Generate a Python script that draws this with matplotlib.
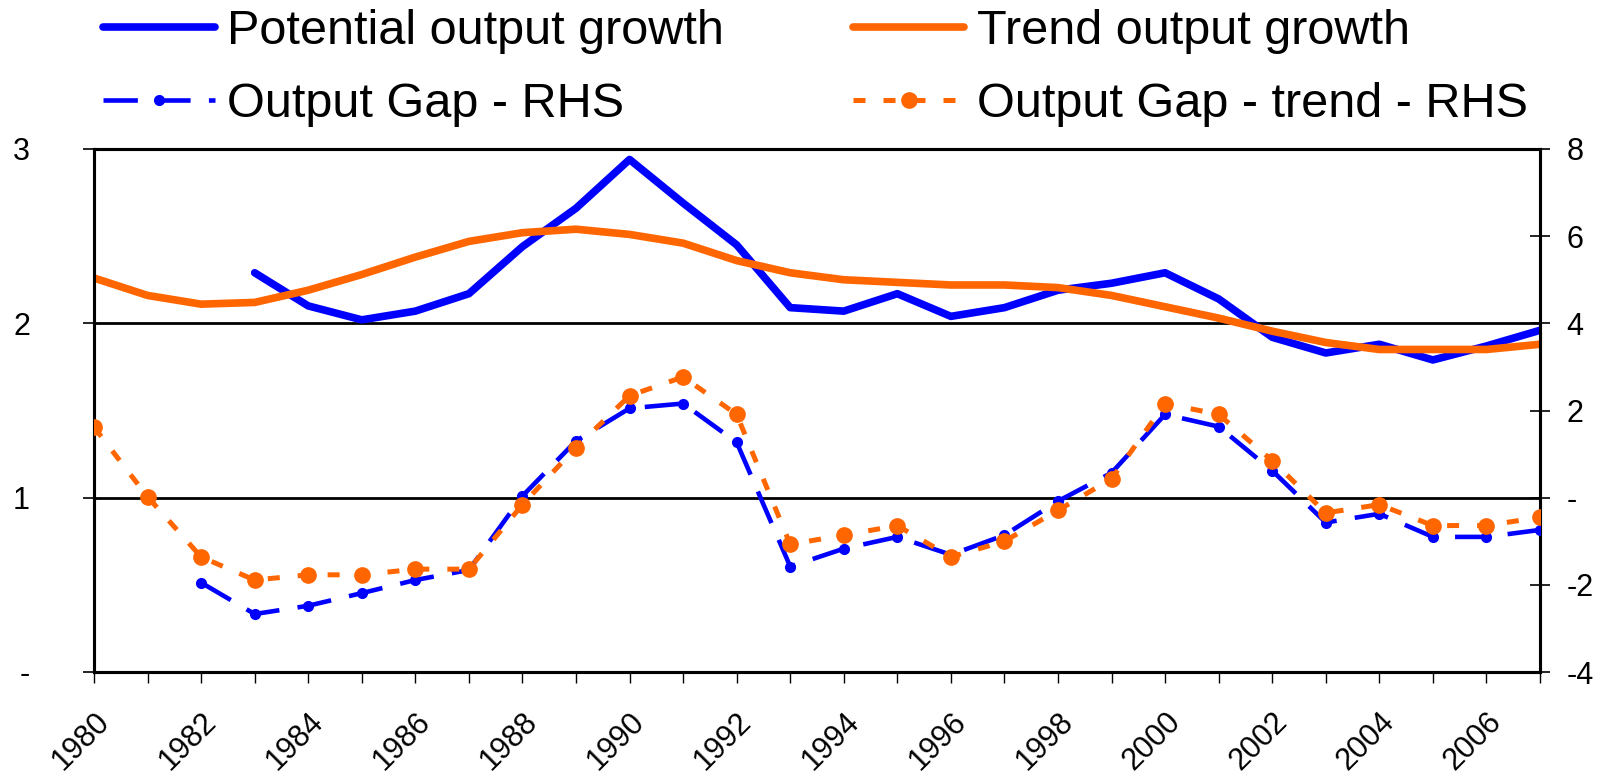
import numpy as np
import matplotlib.pyplot as plt
import matplotlib.transforms as mtransforms

plt.rcParams['font.family'] = ['Liberation Sans', 'DejaVu Sans']

nan = np.nan
years = list(range(1980, 2008))

potential_growth = [nan, nan, nan, 2.29, 2.10, 2.02, 2.07, 2.17, 2.44, 2.66, 2.94, 2.69, 2.45,
                    2.09, 2.07, 2.17, 2.04, 2.09, 2.19, 2.23, 2.29, 2.14, 1.92, 1.83, 1.88,
                    1.79, 1.87, 1.96]
trend_growth = [2.26, 2.16, 2.11, 2.12, 2.19, 2.28, 2.38, 2.47, 2.52, 2.54, 2.51, 2.46, 2.36,
                2.29, 2.25, 2.235, 2.22, 2.22, 2.205, 2.16, 2.095, 2.03, 1.955, 1.89, 1.85,
                1.85, 1.85, 1.88]
output_gap = [nan, nan, -1.95, -2.67, -2.48, -2.19, -1.89, -1.66, 0.04, 1.30, 2.05, 2.16, 1.27,
              -1.58, -1.17, -0.90, -1.31, -0.86, -0.08, 0.57, 1.91, 1.63, 0.62, -0.57, -0.37,
              -0.90, -0.90, -0.74]
output_gap_trend = [1.62, 0.02, -1.36, -1.89, -1.77, -1.77, -1.64, -1.64, -0.16, 1.15, 2.34,
                    2.77, 1.91, -1.07, -0.86, -0.64, -1.36, -1.00, -0.29, 0.43, 2.16, 1.91,
                    0.85, -0.35, -0.16, -0.64, -0.64, -0.45]

left_ticks = [0, 1, 2, 3]
left_labels = ['-', '1', '2', '3']
right_ticks = [-4, -2, 0, 2, 4, 6, 8]
right_labels = ['-4', '-2', '-', '2', '4', '6', '8']

blue = '#0000FF'
orange = '#FF6600'

W, H = 1606, 778
fig = plt.figure(figsize=(W / 100, H / 100), dpi=100)
ax = fig.add_axes([94 / W, 1 - 672 / H, (1540 - 94) / W, (672 - 149) / H])
ax2 = ax.twinx()

# horizontal gridlines at 1 and 2 (left scale)
for v in [1, 2]:
    ax.axhline(v, color='black', lw=2.0, zorder=1)

l1, = ax.plot(years, potential_growth, color=blue, lw=5.5, solid_capstyle='round',
              label='Potential output growth', zorder=3)
l2, = ax.plot(years, trend_growth, color=orange, lw=5.5, solid_capstyle='round',
              label='Trend output growth', zorder=3)
l3, = ax2.plot(years, output_gap, color=blue, lw=3.3, dashes=(7.5, 4.0),
               marker='o', markersize=7, label='Output Gap - RHS', zorder=3)
l4, = ax2.plot(years, output_gap_trend, color=orange, lw=3.6, dashes=(2.4, 3.6),
               marker='o', markersize=11, label='Output Gap - trend - RHS', zorder=4)

ax.set_xlim(1980, 2007)
ax.set_ylim(0, 3)
ax2.set_ylim(-4, 8)

ax.set_yticks(left_ticks)
ax.set_yticklabels(left_labels)
ax2.set_yticks(right_ticks)
ax2.set_yticklabels(right_labels)

ax.set_xticks(years)
ax.set_xticklabels([str(y) if y % 2 == 0 else '' for y in years],
                   rotation=45, ha='right', va='top', rotation_mode='anchor')
shift = mtransforms.ScaledTranslation(-14 / 100, 0, fig.dpi_scale_trans)
for lab in ax.get_xticklabels():
    lab.set_transform(lab.get_transform() + shift)

for a in (ax, ax2):
    for s in a.spines.values():
        s.set_linewidth(2.2)
        s.set_color('black')
ax.tick_params(axis='y', labelsize=22, length=8, width=1.2, direction='out', pad=38)
ax2.tick_params(axis='y', labelsize=22, length=14.4, width=1.2, direction='inout', pad=12)
ax.tick_params(axis='x', labelsize=22, length=8, width=1.0, direction='out', pad=17)

fig.legend(handles=[l1, l3, l2, l4], loc='upper left', bbox_to_anchor=(103 / W, 0.988),
           ncol=2, frameon=False, fontsize=35, handlelength=2.3, handletextpad=0.25,
           columnspacing=2.65, labelspacing=0.56, borderpad=0, borderaxespad=0)

fig.savefig('out.png', dpi=100)
